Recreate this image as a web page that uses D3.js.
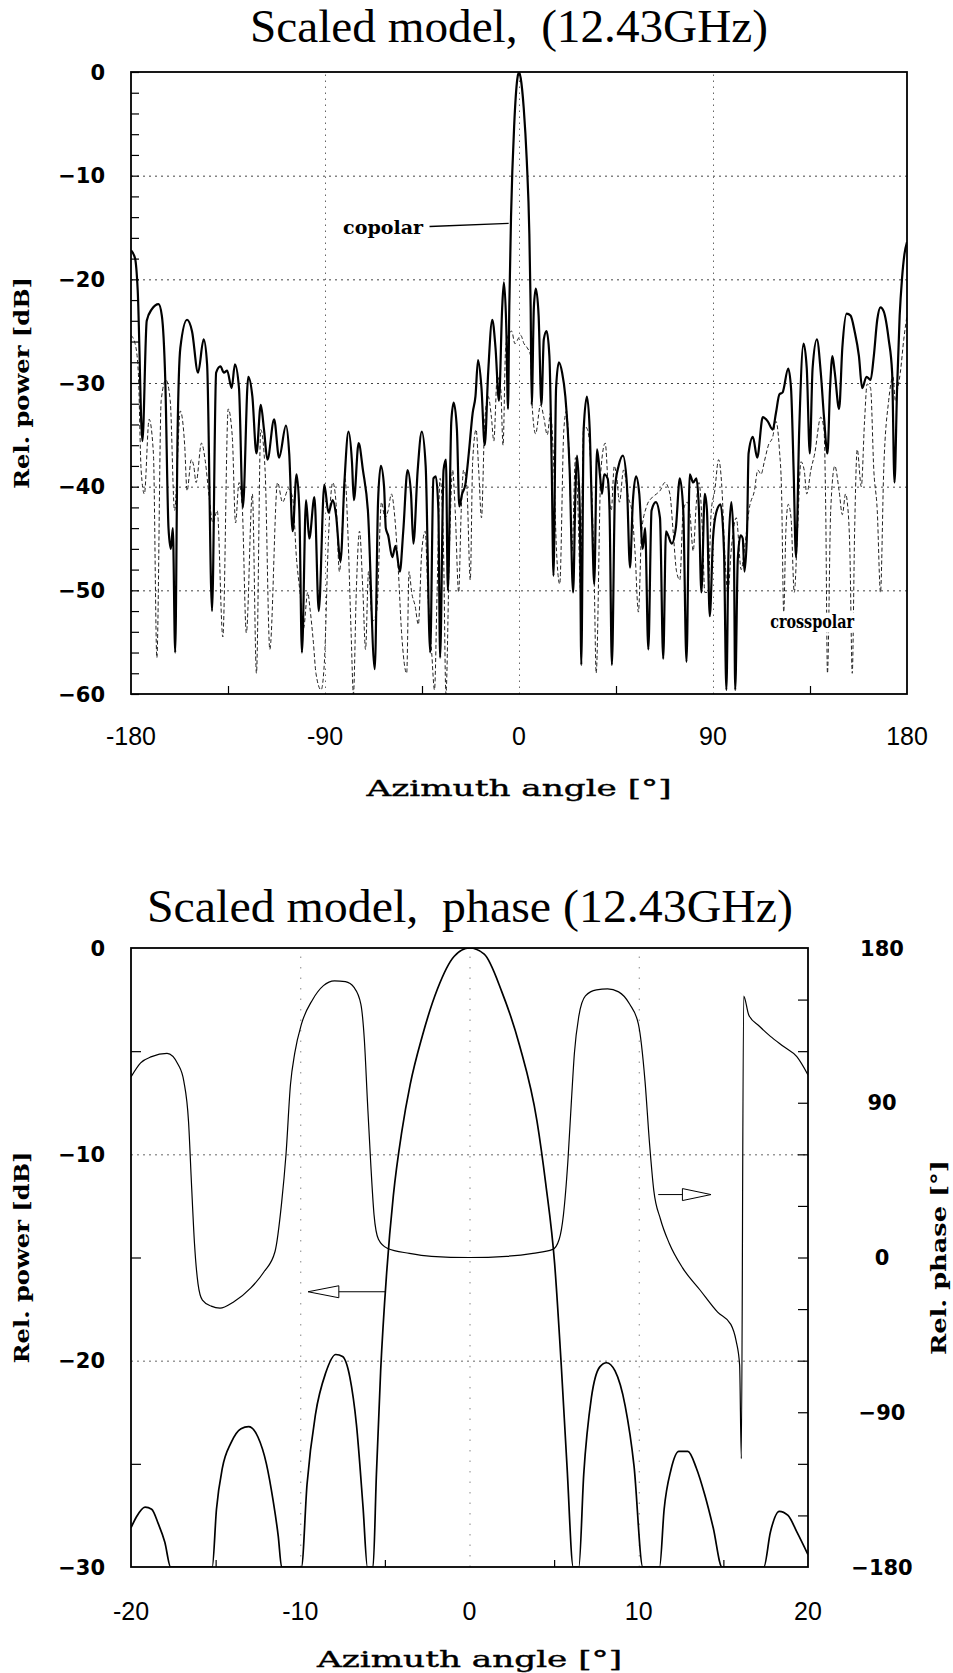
<!DOCTYPE html>
<html>
<head>
<meta charset="utf-8">
<script src="https://cdn.jsdelivr.net/npm/d3@7"></script>
<style>
  body { margin: 0; background: #fff; }
  svg { display: block; }
</style>
</head>
<body>
<div class="canvas"></div>
<script>
const w = 953;
const h = 1673;

// ---- data ----
// top chart: [azimuth deg, rel. power dB]
const copolar = [
  [-180,-17.2],[-178.1,-18],[-176.9,-21],[-174.7,-35.6],[-172.7,-24],[-170.4,-22.9],[-167.2,-22.4],[-165.7,-23.5],
  [-164.1,-29.7],[-162.6,-44],[-161.5,-46],[-160.6,-44],[-159.5,-56],[-158.4,-35],[-157.1,-26.6],[-154.0,-23.9],
  [-151.7,-25],[-148.9,-29],[-146.3,-25.8],[-144.7,-28.2],[-142.4,-52],[-140.5,-29],[-138.5,-28.4],[-136.9,-29],
  [-135.4,-28.8],[-133.3,-30.5],[-131.8,-28.2],[-129.9,-30.5],[-128.1,-42],[-125.6,-29.4],[-123.7,-31.3],[-121.8,-36.8],
  [-119.8,-32.1],[-118.3,-34.5],[-116.7,-37.4],[-113.6,-33.5],[-111.3,-37.2],[-108.1,-34.1],[-106.6,-36.8],[-105.0,-44.3],
  [-103.2,-38.8],[-101.9,-42.3],[-100.7,-56],[-98.8,-41.3],[-97.3,-45],[-94.9,-41],[-92.9,-52],[-90.3,-39.8],
  [-88.4,-42.5],[-86.4,-41.3],[-84.9,-42.7],[-82.8,-47.2],[-81.0,-39.6],[-79.1,-34.7],[-77.5,-37.6],[-76.6,-41.3],
  [-74.4,-35.8],[-72.4,-38.4],[-70.1,-42.3],[-66.9,-57.6],[-65.4,-41.5],[-64.1,-38],[-62.6,-40],[-61.8,-44],
  [-60.7,-44.7],[-58.8,-46.8],[-57.3,-45.7],[-55.3,-48.2],[-53.7,-44.3],[-51.7,-38.4],[-50.1,-40.7],[-49.0,-45.5],
  [-47.0,-38.4],[-45.1,-34.7],[-43.3,-38],[-41.2,-56],[-39.7,-39.2],[-38.6,-39],[-37.4,-42.3],[-36.6,-56.5],
  [-35.0,-38.4],[-33.9,-37.4],[-33.0,-50],[-31.4,-33.7],[-30.3,-31.9],[-28.8,-34.5],[-27.7,-41.9],[-26.4,-40.7],
  [-24.9,-39.8],[-23.3,-36.8],[-21.5,-32.9],[-20.2,-31.3],[-19.0,-27.8],[-17.4,-30.5],[-15.9,-36],[-14.3,-29],
  [-12.4,-23.9],[-10.9,-26.6],[-9.3,-31.7],[-7.8,-22.7],[-7.0,-20.3],[-5.9,-24.6],[-5.1,-32.5],[-4.5,-22.7],
  [-3.7,-14],[-2.2,-5],[-0.8,-0.7],[0,0],[0.8,-0.6],[2.2,-3.5],[3.6,-8.5],[4.8,-15.6],[5.4,-22.7],[5.9,-32.1],
  [6.9,-22.7],[7.8,-20.9],[9.1,-23.5],[10.4,-32.1],[11.5,-25.8],[12.8,-25],[14.1,-27.4],[15.2,-38.4],[16.0,-48.6],
  [17.2,-30.5],[18.5,-28],[20,-29],[21.5,-31.3],[23.5,-38.4],[25.1,-50.2],[26.2,-40.4],[26.9,-37],[28.2,-42.3],
  [28.9,-57.2],[30,-34.5],[31.5,-31.3],[32.8,-34.5],[33.8,-42.3],[34.9,-49.4],[36.2,-36.4],[37.7,-39.2],[38.5,-40.7],
  [39.5,-38.8],[41.1,-39.2],[42,-42.3],[43.1,-57.2],[44.6,-40],[46.2,-38],[48.2,-37],[50,-39.6],[51.5,-47.8],
  [52.8,-41.5],[54.3,-39],[55.8,-40.7],[57.4,-46],[58.5,-44],[60,-55.7],[61.5,-42.3],[63.5,-41.5],[65.4,-43],
  [66.9,-56.6],[68.2,-44.3],[69.2,-44.7],[70.8,-45.5],[72.8,-43.9],[74.6,-39.2],[76.2,-42.3],[77.7,-56.9],[79.2,-38.8],
  [80.8,-39.6],[82.3,-39.2],[83.5,-42.3],[84.6,-50.2],[86.2,-40.7],[87.2,-42.3],[88.5,-52.5],[90,-45],[91.5,-42.5],
  [93.5,-41.7],[95.1,-46.2],[96.2,-59.6],[97.2,-46.2],[98.5,-41.5],[99.7,-46.2],[100.3,-59.6],[101.5,-47],
  [102.8,-44.7],[103.8,-45],[104.6,-48.2],[105.8,-44.3],[106.5,-36.8],[108.5,-35.2],[110.5,-37.2],[113.1,-33.3],
  [115.4,-33.7],[117.7,-34.5],[119.2,-32.9],[120.8,-31.1],[122.3,-30.9],[124.9,-28.6],[126.2,-30.5],[127.4,-38.4],
  [128.5,-46.8],[130,-34.5],[132,-26.2],[133.5,-28.6],[134.9,-36.8],[136.2,-28.6],[138.2,-25.8],[140,-29],
  [141.5,-33.3],[143.1,-36.8],[144.3,-30.5],[145.4,-27.4],[146.5,-29],[148.5,-32.5],[150,-26.6],[152,-23.3],
  [153.8,-23.5],[155.7,-25],[157.7,-27.4],[159.2,-30.5],[161.2,-29.4],[163.1,-29.7],[164.6,-27.4],[166.2,-23.9],
  [167.7,-22.7],[169.2,-23.1],[171.5,-25.8],[173.1,-29],[174.2,-39.6],[175.4,-30.5],[176.6,-23.5],[177.7,-19.9],
  [178.8,-17.6],[180,-16.4]
];

const crosspolar = [
  [-180,-25.4],[-178.1,-26.2],[-176.6,-29],[-175.3,-38.4],[-173.8,-40.7],[-171.6,-33.5],[-169.6,-36.8],[-168,-56.5],
  [-166,-31.7],[-163.8,-29.7],[-161.8,-31.7],[-159.8,-42.3],[-157.1,-32.7],[-155.1,-36],[-154,-40.4],[-152,-37.4],
  [-150.9,-38],[-149.8,-39.6],[-147.3,-35.8],[-145.5,-37.6],[-143.9,-40.7],[-142,-43.5],[-140,-42.3],[-137.4,-54.5],
  [-134.9,-32.5],[-133,-35.2],[-131.5,-43.5],[-129.9,-39.6],[-128.4,-41.9],[-126.5,-54.1],[-123.7,-40.7],[-121.8,-58],
  [-119.8,-34.5],[-117.8,-38.4],[-115.6,-55.7],[-112,-39.6],[-109.7,-41.5],[-106.9,-40.2],[-105,-41.1],[-103.2,-47],
  [-101.6,-50.2],[-100,-53.7],[-98,-50.2],[-97,-51.7],[-95.4,-55],[-94.2,-58],[-91.8,-59.6],[-90.3,-57],
  [-88.4,-45],[-86.4,-39.6],[-84.9,-41.5],[-83.3,-48.2],[-81.7,-43],[-80.7,-39.2],[-79.4,-44.3],[-77.9,-54],
  [-76.8,-60],[-75.5,-50.2],[-74,-44.3],[-72.4,-50.2],[-71.2,-55.7],[-69.8,-48.2],[-68,-53],[-66,-52],
  [-63.8,-41.5],[-62.2,-43],[-60.7,-42.3],[-59.2,-40.7],[-57.6,-43],[-56,-48],[-54.5,-54],[-52.1,-58],
  [-51,-48.2],[-49.8,-50.2],[-48.2,-51.5],[-46.7,-53.3],[-45.1,-46.2],[-43.5,-44.3],[-42.3,-50.2],[-40.5,-56],
  [-39.2,-59.6],[-38,-50.2],[-36.6,-39.2],[-35,-46.2],[-33.9,-60],[-32.3,-46.2],[-30.8,-38.4],[-29.6,-42.3],
  [-28,-50.2],[-26.8,-42.3],[-25.7,-38.4],[-24.2,-40],[-22.6,-49],[-21.5,-37.6],[-19.9,-34.5],[-18.7,-38.4],
  [-17.4,-43],[-15.9,-33.7],[-14.3,-31.3],[-12.8,-33.3],[-11.7,-35.6],[-10.1,-29.4],[-8.5,-30.5],[-7.4,-36],
  [-6.2,-26.6],[-5,-25.4],[-3.4,-25],[-1.9,-26.2],[0,-25.6],[0.8,-25.4],[2.3,-26.2],[3.8,-26.6],
  [5.4,-27.4],[6.2,-32.5],[7.7,-34.9],[10,-32.1],[11.5,-33.3],[13.1,-35],[14.6,-32.9],[16.2,-38.4],
  [17.4,-46.2],[18.9,-49.4],[20.8,-34.5],[22,-32.7],[23.5,-38.4],[24.6,-46.2],[26.2,-37.2],[27.4,-42.3],
  [28.5,-49.8],[30,-34.1],[31.8,-34.5],[33.4,-38.4],[34.9,-49],[35.8,-58],[38,-38.4],[40,-35.8],
  [41.5,-40.4],[42.8,-42.3],[44.2,-38],[45.4,-39.2],[46.6,-41.5],[48.5,-38.4],[50.8,-41.1],[52.3,-42.3],
  [53.8,-46.2],[55.4,-52.1],[56.9,-44.3],[59.2,-41.9],[61.5,-41.1],[63.8,-40.7],[65.4,-40.4],[67.7,-39.6],
  [70,-40.7],[71.5,-44.3],[73.1,-48.2],[74.6,-49],[76.2,-42.3],[78,-41.5],[79.2,-42.3],[80.8,-46.2],
  [82.3,-41.5],[83.5,-39.6],[85.1,-44.3],[86.2,-50.2],[87.7,-50.2],[89.2,-42.3],[90.8,-40.4],[92.6,-37.4],
  [94.2,-40.4],[95.4,-46.2],[96.9,-50.2],[98.5,-46],[100.8,-43],[103.1,-48],[104.6,-46],[106.9,-42],
  [109.2,-40.4],[110.8,-38.4],[112.3,-38.8],[113.8,-37.6],[115.7,-36],[117.7,-35.2],[119.2,-33.7],[120.8,-36.4],
  [121.8,-40.4],[122.8,-52.1],[123.8,-44.3],[124.9,-41.7],[126.2,-43],[127.7,-50.2],[129.2,-44.3],[130.8,-37.6],
  [132.3,-38.4],[133.5,-40.7],[135.4,-38.4],[137.2,-36.8],[140,-33.3],[141.5,-34.5],[142.3,-42.3],[143.1,-58],
  [144.6,-42.3],[146.5,-38],[148.5,-40.4],[150,-42.7],[151.5,-40.7],[152.3,-41.5],[153.5,-46.2],[154.6,-58],
  [155.7,-44.3],[156.9,-36.4],[158.8,-40],[160.3,-33.7],[161.5,-30.1],[163.1,-30.5],[164.6,-38.4],[166.2,-42.3],
  [167.7,-50.2],[169.2,-38.4],[171.5,-31.7],[173.5,-29.4],[174.6,-31.7],[175.7,-30.5],[176.9,-29],[178.5,-25.8],
  [180,-23.5]
];

// bottom chart: [azimuth deg, rel. power dB] (lobes run below -30 between feet)
const power = [
  [-20,-28.1],[-19.7,-27.6],[-19.17,-27.1],[-18.78,-27.2],[-18.39,-27.9],[-18,-28.8],[-17.66,-30],
  [-15.2,-30],[-14.95,-27.2],[-14.6,-25.2],[-14.1,-24],[-13.5,-23.3],[-13.05,-23.2],[-12.5,-23.7],[-12.0,-25],
  [-11.6,-26.8],[-11.3,-28.5],[-11.1,-30],
  [-9.93,-30],[-9.6,-26],[-9.1,-22.6],[-8.5,-20.6],[-7.9,-19.7],[-7.5,-19.8],[-7.07,-20.8],[-6.68,-23.1],
  [-6.29,-27.1],[-6.03,-30],
  [-5.7,-30],[-5.5,-25.5],[-5.25,-20.5],[-4.9,-15.8],[-4.5,-12],[-4.0,-8.9],[-3.5,-6.6],[-2.8,-4.3],
  [-1.9,-2.0],[-0.9,-0.4],[0,0],[0.87,-0.3],[1.9,-2.1],[2.95,-4.7],[3.99,-8.4],[4.5,-11.4],[5.03,-15.3],
  [5.42,-20.2],[5.76,-25.1],[6.13,-30],
  [6.46,-30],[6.75,-25.5],[7.2,-21.8],[7.7,-20.3],[8.1,-20.1],[8.6,-20.5],[9.2,-22.2],[9.72,-25.1],[10.24,-30],
  [11.23,-30],[11.5,-27.2],[11.9,-25.3],[12.37,-24.4],[12.9,-24.4],[13.4,-25.2],[13.9,-26.5],[14.4,-28.1],[14.92,-30],
  [17.39,-30],[17.78,-28.3],[18.3,-27.3],[18.82,-27.5],[19.34,-28.3],[20,-29.4]
];

// bottom chart: [azimuth deg, rel. phase deg]
const phase = [
  [-20,105],[-19.43,113.2],[-18.78,116.8],[-17.87,118.7],[-17.2,112],[-16.88,102.6],[-16.6,79],[-16.43,43.6],
  [-16.25,8.3],[-16.04,-15.3],[-15.78,-24.8],[-15.26,-28.3],[-14.74,-29.5],[-13.96,-26],[-12.92,-17.7],[-12.14,-8.3],
  [-11.49,3.5],[-11.1,31.9],[-10.84,60.2],[-10.58,100.3],[-10.32,119.1],[-9.93,135.7],[-9.28,149.8],[-8.63,158.1],
  [-7.98,160.9],[-7.33,160.4],[-6.81,156.9],[-6.42,147.4],[-6.21,126.2],[-6.03,90.8],[-5.84,55.5],[-5.64,24.8],
  [-5.38,10.6],[-4.86,5.4],[-3.55,2.4],[-2.25,0.7],[0,0],[2.19,0.7],[3.75,2.4],[4.92,4.7],[5.3,10.6],[5.55,24.8],
  [5.81,55.5],[6.02,90.8],[6.2,119.1],[6.46,140.4],[6.85,152.2],[7.5,155.7],[8.16,156.2],[8.81,154.5],[9.46,147.4],
  [9.98,135.7],[10.37,102.6],[10.63,67.2],[10.89,38.9],[11.28,22.4],[11.8,8.3],[12.58,-5.9],[13.62,-18.9],
  [14.66,-31.8],[15.44,-38.9],[15.75,-48.4],[15.96,-62.5],[16.06,-117],[16.2,152],[16.5,141],[17.13,134.5],
  [17.78,128.6],[18.56,122.7],[19.34,116.8],[20,106.2]
];

// ticks and labels
const topXTicks = [-180, -90, 0, 90, 180];
const topXLabels = ["-180", "-90", "0", "90", "180"];
const topYTicks = [0, -10, -20, -30, -40, -50, -60];
const topYLabels = ["0", "\u221210", "\u221220", "\u221230", "\u221240", "\u221250", "\u221260"];
const botXTicks = [-20, -10, 0, 10, 20];
const botXLabels = ["-20", "-10", "0", "10", "20"];
const botYTicks = [0, -10, -20, -30];
const botYLabels = ["0", "\u221210", "\u221220", "\u221230"];
const phaseTicks = [180, 90, 0, -90, -180];
const phaseLabels = ["180", "90", "0", "\u221290", "\u2212180"];

// annotations, in data units
const copolarNote = { text: "copolar", at: [-44.5, -15.6], line: [[-41.5, -14.9], [-4.8, -14.6]] };
const crossNote = { text: "crosspolar", at: [136, -53.6] };
const leftArrow = { tip: -9.54, base: -7.72, tail: -4.99, db: -16.66 };
const rightArrow = { tail: 11.15, base: 12.58, tip: 14.27, db: -11.95 };

// ---- page ----
const svg = d3.select(".canvas").append("svg").attr("width", w).attr("height", h);

const serif = "'Liberation Serif', 'DejaVu Serif', serif";
const slab = "'DejaVu Serif', serif";
const wideSans = "'DejaVu Sans', sans-serif";
const sans = "'Liberation Sans', Arial, sans-serif";

// ===== top chart =====
const m1 = { left: 131, top: 72, width: 776, height: 622 };
const g1 = svg.append("g").attr("transform", `translate(${m1.left}, ${m1.top})`);

const x1 = d3.scaleLinear().domain([-180, 180]).range([0, m1.width]);
const y1 = d3.scaleLinear().domain([-60, 0]).range([m1.height, 0]);

svg.append("defs").append("clipPath").attr("id", "clip1")
  .append("rect").attr("width", m1.width).attr("height", m1.height);

// grid
g1.append("g").attr("class", "grid")
  .call(d3.axisLeft(y1).tickValues([-10, -20, -30, -40, -50]).tickSize(-m1.width).tickFormat(""))
  .call(g => g.select(".domain").remove())
  .selectAll("line").attr("stroke", "#444").attr("stroke-dasharray", "2,4");
g1.append("g").attr("class", "grid").attr("transform", `translate(0, ${m1.height})`)
  .call(d3.axisBottom(x1).tickValues([-90, 0, 90]).tickSize(-m1.height).tickFormat(""))
  .call(g => g.select(".domain").remove())
  .selectAll("line").attr("stroke", "#666").attr("stroke-dasharray", "1.5,4.5");

// inward ticks
g1.append("g")
  .call(d3.axisLeft(y1).tickValues(d3.range(-60, 1, 2)).tickSizeInner(-8).tickSizeOuter(0).tickFormat(""))
  .call(g => g.select(".domain").remove())
  .selectAll("line").attr("stroke", "#000").attr("stroke-width", 1.2);
g1.append("g").attr("transform", `translate(0, ${m1.height})`)
  .call(d3.axisBottom(x1).tickValues([-135, -45, 45, 135]).tickSizeInner(-8).tickSizeOuter(0).tickFormat(""))
  .call(g => g.select(".domain").remove())
  .selectAll("line").attr("stroke", "#000").attr("stroke-width", 1.2);

// lines
const line1 = d3.line().x(d => x1(d[0])).y(d => y1(Math.max(d[1], -60))).curve(d3.curveMonotoneX);
const plot1 = g1.append("g").attr("clip-path", "url(#clip1)");
plot1.append("path").datum(crosspolar).attr("d", line1)
  .attr("fill", "none").attr("stroke", "#222").attr("stroke-width", 1).attr("stroke-dasharray", "4,2.5");
plot1.append("path").datum(copolar).attr("d", line1)
  .attr("fill", "none").attr("stroke", "#000").attr("stroke-width", 2.2).attr("stroke-linejoin", "round");

// annotations
g1.append("line")
  .attr("x1", x1(copolarNote.line[0][0])).attr("y1", y1(copolarNote.line[0][1]))
  .attr("x2", x1(copolarNote.line[1][0])).attr("y2", y1(copolarNote.line[1][1]))
  .attr("stroke", "#000").attr("stroke-width", 1.4);
g1.append("text").attr("x", x1(copolarNote.at[0])).attr("y", y1(copolarNote.at[1]))
  .attr("text-anchor", "end").style("font-family", slab).style("font-weight", "bold")
  .style("font-size", "19px").attr("textLength", 80).attr("lengthAdjust", "spacingAndGlyphs")
  .text(copolarNote.text);
const cross = g1.append("g").attr("transform", `translate(${x1(crossNote.at[0])}, ${y1(crossNote.at[1])})`);
cross.append("rect").attr("x", -44).attr("y", -15).attr("width", 88).attr("height", 20).attr("fill", "#fff");
cross.append("text").attr("text-anchor", "middle").style("font-family", slab).style("font-weight", "bold")
  .style("font-size", "19px").attr("textLength", 84).attr("lengthAdjust", "spacingAndGlyphs")
  .text(crossNote.text);

// frame
g1.append("rect").attr("width", m1.width).attr("height", m1.height)
  .attr("fill", "none").attr("stroke", "#000").attr("stroke-width", 1.8);

// tick labels
g1.append("g").selectAll("text").data(topYTicks).join("text")
  .attr("x", -26).attr("y", d => y1(d)).attr("dy", "0.36em").attr("text-anchor", "end")
  .style("font-family", wideSans).style("font-weight", "bold").style("font-size", "21px")
  .text((d, i) => topYLabels[i]);
g1.append("g").selectAll("text").data(topXTicks).join("text")
  .attr("x", d => x1(d)).attr("y", m1.height + 51).attr("text-anchor", "middle")
  .style("font-family", sans).style("font-size", "25px")
  .text((d, i) => topXLabels[i]);

// titles
svg.append("text").attr("x", 509).attr("y", 42).attr("text-anchor", "middle")
  .style("font-family", serif).style("font-size", "46px").style("white-space", "pre")
  .attr("textLength", 518).attr("lengthAdjust", "spacingAndGlyphs")
  .text("Scaled model,  (12.43GHz)");
svg.append("text").attr("x", m1.left + x1(0)).attr("y", 796).attr("text-anchor", "middle")
  .style("font-family", slab).style("font-size", "22px")
  .attr("stroke", "#000").attr("stroke-width", 0.4)
  .attr("textLength", 305).attr("lengthAdjust", "spacingAndGlyphs")
  .text("Azimuth angle [\u00b0]");
svg.append("text").attr("transform", `translate(29, ${m1.top + m1.height / 2}) rotate(-90)`)
  .attr("text-anchor", "middle").style("font-family", slab).style("font-weight", "bold").style("font-size", "20px")
  .attr("textLength", 212).attr("lengthAdjust", "spacingAndGlyphs")
  .text("Rel. power [dB]");

// ===== bottom chart =====
const m2 = { left: 131, top: 948, width: 677, height: 619 };
const g2 = svg.append("g").attr("transform", `translate(${m2.left}, ${m2.top})`);

const x2 = d3.scaleLinear().domain([-20, 20]).range([0, m2.width]);
const y2 = d3.scaleLinear().domain([-30, 0]).range([m2.height, 0]);
const yPh = d3.scaleLinear().domain([-180, 180]).range([m2.height, 0]);

svg.select("defs").append("clipPath").attr("id", "clip2")
  .append("rect").attr("width", m2.width).attr("height", m2.height);

// grid
g2.append("g")
  .call(d3.axisLeft(y2).tickValues([-10, -20]).tickSize(-m2.width).tickFormat(""))
  .call(g => g.select(".domain").remove())
  .selectAll("line").attr("stroke", "#666").attr("stroke-dasharray", "2,4");
g2.append("g").attr("transform", `translate(0, ${m2.height})`)
  .call(d3.axisBottom(x2).tickValues([-10, 0, 10]).tickSize(-m2.height).tickFormat(""))
  .call(g => g.select(".domain").remove())
  .selectAll("line").attr("stroke", "#888").attr("stroke-dasharray", "1.5,9");

// inward ticks
g2.append("g")
  .call(d3.axisLeft(y2).tickValues([-5, -15, -25]).tickSizeInner(-10).tickSizeOuter(0).tickFormat(""))
  .call(g => g.select(".domain").remove())
  .selectAll("line").attr("stroke", "#000").attr("stroke-width", 1.2);
g2.append("g").attr("transform", `translate(${m2.width}, 0)`)
  .call(d3.axisRight(yPh).tickValues(d3.range(-150, 180, 30)).tickSizeInner(-10).tickSizeOuter(0).tickFormat(""))
  .call(g => g.select(".domain").remove())
  .selectAll("line").attr("stroke", "#000").attr("stroke-width", 1.2);
g2.append("g").attr("transform", `translate(0, ${m2.height})`)
  .call(d3.axisBottom(x2).tickValues([-15, -5, 5, 15]).tickSizeInner(-7).tickSizeOuter(0).tickFormat(""))
  .call(g => g.select(".domain").remove())
  .selectAll("line").attr("stroke", "#000").attr("stroke-width", 1.2);

// lines
const plot2 = g2.append("g").attr("clip-path", "url(#clip2)");
plot2.append("path").datum(power)
  .attr("d", d3.line().x(d => x2(d[0])).y(d => y2(d[1])).curve(d3.curveMonotoneX))
  .attr("fill", "none").attr("stroke", "#000").attr("stroke-width", 1.7);
plot2.append("path").datum(phase)
  .attr("d", d3.line().x(d => x2(d[0])).y(d => yPh(d[1])).curve(d3.curveMonotoneX))
  .attr("fill", "none").attr("stroke", "#000").attr("stroke-width", 1.2);

// arrows
const ay1 = y2(leftArrow.db);
g2.append("path")
  .attr("d", `M${x2(leftArrow.tip)},${ay1} L${x2(leftArrow.base)},${ay1 - 6} L${x2(leftArrow.base)},${ay1 + 6} Z`)
  .attr("fill", "#fff").attr("stroke", "#000").attr("stroke-width", 1);
g2.append("line").attr("x1", x2(leftArrow.base)).attr("x2", x2(leftArrow.tail))
  .attr("y1", ay1).attr("y2", ay1).attr("stroke", "#000").attr("stroke-width", 1);
const ay2 = y2(rightArrow.db);
g2.append("path")
  .attr("d", `M${x2(rightArrow.tip)},${ay2} L${x2(rightArrow.base)},${ay2 - 6} L${x2(rightArrow.base)},${ay2 + 6} Z`)
  .attr("fill", "#fff").attr("stroke", "#000").attr("stroke-width", 1);
g2.append("line").attr("x1", x2(rightArrow.tail)).attr("x2", x2(rightArrow.base))
  .attr("y1", ay2).attr("y2", ay2).attr("stroke", "#000").attr("stroke-width", 1);

// frame
g2.append("rect").attr("width", m2.width).attr("height", m2.height)
  .attr("fill", "none").attr("stroke", "#000").attr("stroke-width", 1.8);

// tick labels
g2.append("g").selectAll("text").data(botYTicks).join("text")
  .attr("x", -26).attr("y", d => y2(d)).attr("dy", "0.36em").attr("text-anchor", "end")
  .style("font-family", wideSans).style("font-weight", "bold").style("font-size", "21px")
  .text((d, i) => botYLabels[i]);
g2.append("g").selectAll("text").data(phaseTicks).join("text")
  .attr("x", m2.width + 74).attr("y", d => yPh(d)).attr("dy", "0.36em").attr("text-anchor", "middle")
  .style("font-family", wideSans).style("font-weight", "bold").style("font-size", "21px")
  .text((d, i) => phaseLabels[i]);
g2.append("g").selectAll("text").data(botXTicks).join("text")
  .attr("x", d => x2(d)).attr("y", m2.height + 53).attr("text-anchor", "middle")
  .style("font-family", sans).style("font-size", "25px")
  .text((d, i) => botXLabels[i]);

// titles
svg.append("text").attr("x", 470).attr("y", 922).attr("text-anchor", "middle")
  .style("font-family", serif).style("font-size", "46px").style("white-space", "pre")
  .attr("textLength", 646).attr("lengthAdjust", "spacingAndGlyphs")
  .text("Scaled model,  phase (12.43GHz)");
svg.append("text").attr("x", m2.left + x2(0)).attr("y", 1667).attr("text-anchor", "middle")
  .style("font-family", slab).style("font-size", "22px")
  .attr("stroke", "#000").attr("stroke-width", 0.4)
  .attr("textLength", 305).attr("lengthAdjust", "spacingAndGlyphs")
  .text("Azimuth angle [\u00b0]");
svg.append("text").attr("transform", `translate(29, ${m2.top + m2.height / 2}) rotate(-90)`)
  .attr("text-anchor", "middle").style("font-family", slab).style("font-weight", "bold").style("font-size", "20px")
  .attr("textLength", 212).attr("lengthAdjust", "spacingAndGlyphs")
  .text("Rel. power [dB]");
svg.append("text").attr("transform", `translate(946, ${m2.top + m2.height / 2}) rotate(-90)`)
  .attr("text-anchor", "middle").style("font-family", slab).style("font-weight", "bold").style("font-size", "20px")
  .attr("textLength", 195).attr("lengthAdjust", "spacingAndGlyphs")
  .text("Rel. phase [\u00b0]");
</script>
</body>
</html>
